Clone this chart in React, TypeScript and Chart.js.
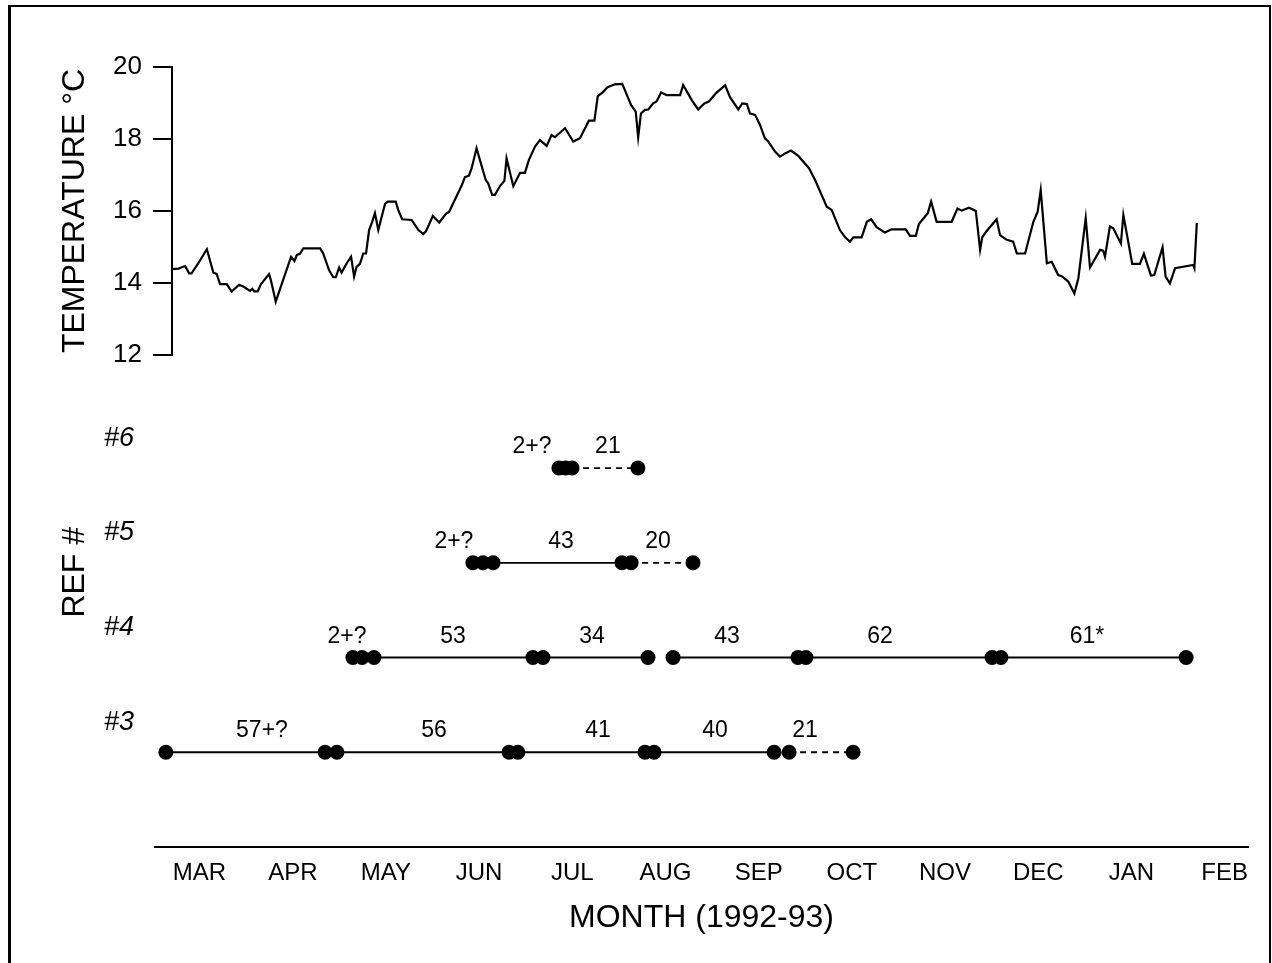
import React, { useEffect, useRef } from "react";
import { Chart, registerables } from "chart.js";

Chart.register(...registerables);

// ---------- data ----------
// x values are days since 1 March 1992
const monthLabels = ["MAR", "APR", "MAY", "JUN", "JUL", "AUG", "SEP", "OCT", "NOV", "DEC", "JAN", "FEB"];
const monthTickDays = [15.2, 45.7, 76.1, 106.5, 137.0, 167.4, 197.9, 228.3, 258.7, 289.2, 319.6, 350.1];

const tempTicks = [12, 14, 16, 18, 20];

const tempDays = [
  5.9, 8.3, 10.5, 11.8, 12.6, 14.8, 17.6, 19.7, 20.8, 21.9, 24.1, 25.7, 28.1, 29.5, 31.7, 32.4, 33.1, 34.2, 35.3, 37.9,
  38.5, 40.1, 45.1, 46.2, 47.0, 48.0, 49.1, 54.6, 55.6, 57.5, 58.9, 59.7, 60.8, 61.6, 63.3, 64.7, 65.7, 66.5, 67.6, 68.7,
  69.6, 70.6, 71.6, 72.5, 73.6, 75.8, 76.7, 79.3, 80.1, 81.4, 84.5, 86.7, 88.3, 89.1, 89.9, 91.4, 93.5, 95.9, 96.7, 100.8,
  101.9, 103.2, 104.1, 105.7, 108.7, 109.5, 110.8, 111.7, 113.4, 114.8, 115.5,
  117.7, 119.9, 121.5, 122.8, 124.8, 126.4, 128.6, 130.2, 131.3, 134.6, 137.3, 139.5, 142.4, 144.2, 145.3, 146.8, 148.5,
  150.9, 153.3, 156.2, 157.7, 158.5, 159.4, 160.7, 161.8, 163.4, 164.5, 166.0, 167.8, 172.2, 173.2, 176.0, 178.1, 180.1,
  181.6, 184.1, 186.9, 188.5, 191.2, 192.5, 194.0, 195.0, 196.7, 198.3, 199.9, 201.0, 203.2, 204.8, 206.5, 208.4, 210.8,
  214.3, 216.3, 220.1, 221.7, 224.4, 226.1, 227.7,
  228.8, 231.5, 233.2, 234.6, 236.4, 239.1, 241.3, 245.9, 247.3, 249.2, 250.2, 253.1, 254.2, 256.0, 260.9, 262.8, 264.2,
  266.6, 268.8, 270.2, 270.9, 272.4, 275.6, 276.7, 278.9, 281.0, 282.2, 284.9, 287.6, 289.0, 290.0, 292.0, 293.6, 295.7,
  297.0, 299.0, 301.0, 302.3, 304.7, 306.1, 309.4, 310.4, 311.0, 312.6, 313.7, 316.2, 317.0, 319.9, 322.4, 323.7, 326.0,
  327.1, 329.8, 330.8, 332.2, 333.9, 339.8, 340.2, 341.0,
];

const tempValues = [
  14.38, 14.4, 14.47, 14.27, 14.27, 14.55, 14.94, 14.29, 14.25, 13.97, 13.97, 13.76, 13.95, 13.9, 13.78, 13.84, 13.77, 13.77, 13.97, 14.25,
  14.08, 13.48, 14.73, 14.61, 14.78, 14.81, 14.96, 14.96, 14.82, 14.36, 14.16, 14.16, 14.43, 14.29, 14.55, 14.73, 14.18, 14.45, 14.53, 14.82,
  14.82, 15.47, 15.7, 15.94, 15.47, 16.2, 16.26, 16.26, 16.03, 15.77, 15.75, 15.47, 15.36, 15.43, 15.57, 15.86, 15.68, 15.94, 15.97, 16.7,
  16.94, 16.98, 17.19, 17.74, 16.86, 16.77, 16.45, 16.45, 16.7, 16.84, 17.46,
  16.69, 17.06, 17.06, 17.42, 17.79, 17.97, 17.81, 18.11, 18.05, 18.3, 17.93, 18.02, 18.51, 18.51, 19.19, 19.29, 19.44,
  19.52, 19.53, 18.94, 18.76, 18.05, 18.71, 18.81, 18.82, 18.99, 19.04, 19.29, 19.22, 19.22, 19.5, 19.08, 18.82, 18.99,
  19.04, 19.29, 19.49, 19.16, 18.82, 18.99, 18.97, 18.71, 18.67, 18.39, 18.02, 17.93, 17.65, 17.51, 17.6, 17.68, 17.53,
  17.19, 16.86, 16.12, 16.03, 15.47, 15.27, 15.15,
  15.27, 15.27, 15.7, 15.77, 15.55, 15.4, 15.49, 15.49, 15.31, 15.31, 15.64, 15.94, 16.26, 15.7, 15.7, 16.07, 16.01,
  16.09, 16.0, 14.92, 15.27, 15.45, 15.77, 15.33, 15.2, 15.15, 14.82, 14.82, 15.7, 15.98, 16.58, 14.55, 14.59, 14.22,
  14.18, 14.04, 13.71, 14.13, 15.8, 14.43, 14.92, 14.9, 14.73, 15.57, 15.52, 15.1, 15.89, 14.53, 14.53, 14.81, 14.21,
  14.22, 14.99, 14.18, 13.99, 14.41, 14.5, 14.41, 15.67,
];

const refRows = [3, 4, 5, 6];

const ref3Dots = [4.2, 56.2, 60.1, 116.3, 119.2, 160.7, 163.7, 202.9, 207.8, 228.7];
const ref3Solid = [[4.2, 56.2], [60.1, 116.3], [119.2, 160.7], [163.7, 202.9]];
const ref3Dashed = [[207.8, 228.7]];
const ref3Notes = ["57+?", "56", "41", "40", "21"];
const ref3NoteDays = [35.6, 91.8, 145.4, 183.6, 213.0];

const ref4Dots = [65.3, 68.3, 72.2, 124.1, 127.4, 161.7, 169.9, 210.7, 213.3, 274.1, 277.0, 337.5];
const ref4Solid = [[72.2, 124.1], [127.4, 161.7], [169.9, 210.7], [213.3, 274.1], [277.0, 337.5]];
const ref4Dashed: number[][] = [];
const ref4Notes = ["2+?", "53", "34", "43", "62", "61*"];
const ref4NoteDays = [63.4, 98.0, 143.4, 187.5, 237.5, 305.1];

const ref5Dots = [104.5, 107.8, 111.1, 153.2, 156.2, 176.4];
const ref5Solid = [[111.1, 153.2]];
const ref5Dashed = [[156.2, 176.4]];
const ref5Notes = ["2+?", "43", "20"];
const ref5NoteDays = [98.3, 133.3, 165.0];

const ref6Dots = [132.6, 134.8, 136.9, 158.4];
const ref6Solid: number[][] = [];
const ref6Dashed = [[136.9, 158.4]];
const ref6Notes = ["2+?", "21"];
const ref6NoteDays = [123.8, 148.6];

// ---------- layout constants ----------
const W = 1272;
const H = 963;
const FONT = '"Liberation Sans", Arial, Helvetica, sans-serif';
const PX_PER_DAY = 3.0611;
const X_ORIGIN_PX = 153;
const PLOT_RIGHT_PX = 1248;
const X_MAX = (PLOT_RIGHT_PX - X_ORIGIN_PX) / PX_PER_DAY;
const TOP_LEFT_PX = 172;
const BOT_LEFT_PX = 155;
const TOP_X_MIN = (TOP_LEFT_PX - X_ORIGIN_PX) / PX_PER_DAY;
const BOT_X_MIN = (BOT_LEFT_PX - X_ORIGIN_PX) / PX_PER_DAY;

const rows = [
  { row: 3, dots: ref3Dots, solid: ref3Solid, dashed: ref3Dashed, notes: ref3Notes, noteDays: ref3NoteDays },
  { row: 4, dots: ref4Dots, solid: ref4Solid, dashed: ref4Dashed, notes: ref4Notes, noteDays: ref4NoteDays },
  { row: 5, dots: ref5Dots, solid: ref5Solid, dashed: ref5Dashed, notes: ref5Notes, noteDays: ref5NoteDays },
  { row: 6, dots: ref6Dots, solid: ref6Solid, dashed: ref6Dashed, notes: ref6Notes, noteDays: ref6NoteDays },
];

const notesPlugin = {
  id: "refNotes",
  afterDatasetsDraw(chart: any) {
    const { ctx } = chart;
    const xs = chart.scales.x;
    const ys = chart.scales.y;
    ctx.save();
    ctx.font = `23px ${FONT}`;
    ctx.fillStyle = "#000";
    ctx.textAlign = "center";
    ctx.textBaseline = "alphabetic";
    rows.forEach((r) => {
      r.notes.forEach((t, i) => {
        ctx.fillText(t, xs.getPixelForValue(r.noteDays[i]), ys.getPixelForValue(r.row) - 15);
      });
    });
    ctx.restore();
  },
};

export default function App() {
  const topRef = useRef<HTMLCanvasElement>(null);
  const botRef = useRef<HTMLCanvasElement>(null);

  useEffect(() => {
    Chart.defaults.font.family = FONT;
    Chart.defaults.color = "#000";

    const top = new Chart(topRef.current as HTMLCanvasElement, {
      type: "line",
      data: {
        datasets: [
          {
            data: tempDays.map((d, i) => ({ x: d, y: tempValues[i] })),
            borderColor: "#000",
            borderWidth: 2.2,
            pointRadius: 0,
            tension: 0,
            fill: false,
          },
        ],
      },
      options: {
        responsive: false,
        animation: false,
        devicePixelRatio: 1,
        layout: { padding: { left: 0, right: W - PLOT_RIGHT_PX, top: 67, bottom: H - 355 } },
        plugins: { legend: { display: false }, tooltip: { enabled: false } },
        scales: {
          x: { type: "linear", display: false, min: TOP_X_MIN, max: X_MAX },
          y: {
            type: "linear",
            min: 12,
            max: 20,
            afterFit: (s: any) => {
              s.width = TOP_LEFT_PX;
            },
            afterBuildTicks: (s: any) => {
              s.ticks = tempTicks.map((v) => ({ value: v }));
            },
            ticks: { font: { size: 26 }, padding: 11, color: "#000" },
            grid: { display: true, drawOnChartArea: false, drawTicks: true, tickLength: 19, color: "#000", lineWidth: 2 },
            border: { display: true, color: "#000", width: 2 },
            title: { display: true, text: "TEMPERATURE °C", font: { size: 32 }, padding: { top: 56, bottom: 0 }, color: "#000" },
          },
        },
      } as any,
    });

    const datasets: any[] = [];
    rows.forEach((r) => {
      r.solid.forEach(([a, b]) => {
        datasets.push({
          data: [{ x: a, y: r.row }, { x: b, y: r.row }],
          borderColor: "#000",
          borderWidth: 1.8,
          pointRadius: 0,
          tension: 0,
          fill: false,
        });
      });
      r.dashed.forEach(([a, b]) => {
        datasets.push({
          data: [{ x: a, y: r.row }, { x: b, y: r.row }],
          borderColor: "#000",
          borderWidth: 1.8,
          borderDash: [6, 5],
          pointRadius: 0,
          tension: 0,
          fill: false,
        });
      });
      datasets.push({
        data: r.dots.map((d) => ({ x: d, y: r.row })),
        showLine: false,
        pointRadius: 7.5,
        pointBackgroundColor: "#000",
        pointBorderWidth: 0,
        borderColor: "#000",
      });
    });

    const bot = new Chart(botRef.current as HTMLCanvasElement, {
      type: "line",
      data: { datasets },
      options: {
        responsive: false,
        animation: false,
        devicePixelRatio: 1,
        layout: { padding: { left: 0, right: W - PLOT_RIGHT_PX, top: 297.5, bottom: 16 } },
        plugins: { legend: { display: false }, tooltip: { enabled: false } },
        scales: {
          x: {
            type: "linear",
            min: BOT_X_MIN,
            max: X_MAX,
            afterFit: (s: any) => {
              s.height = 100;
            },
            afterBuildTicks: (s: any) => {
              s.ticks = monthTickDays.map((v) => ({ value: v }));
            },
            ticks: {
              callback: (_v: any, i: number) => monthLabels[i],
              autoSkip: false,
              maxRotation: 0,
              minRotation: 0,
              font: { size: 24 },
              padding: 12,
              color: "#000",
            },
            grid: { display: false, drawTicks: false },
            border: { display: true, color: "#000", width: 2 },
            title: { display: true, text: "MONTH (1992-93)", font: { size: 32 }, padding: { top: 0, bottom: 10 }, color: "#000" },
          },
          y: {
            type: "linear",
            min: 2,
            max: 7.8,
            afterFit: (s: any) => {
              s.width = BOT_LEFT_PX;
            },
            afterBuildTicks: (s: any) => {
              s.ticks = refRows.map((v) => ({ value: v }));
            },
            ticks: {
              callback: (v: any) => "#" + v,
              font: { size: 27, style: "italic" },
              padding: 21,
              labelOffset: -30,
              color: "#000",
            },
            grid: { display: false, drawTicks: false },
            border: { display: false },
            title: { display: true, text: "REF #", font: { size: 32 }, padding: { top: 56, bottom: 0 }, color: "#000" },
          },
        },
      } as any,
      plugins: [notesPlugin],
    });

    return () => {
      top.destroy();
      bot.destroy();
    };
  }, []);

  return (
    <div style={{ position: "absolute", left: 0, top: 0, width: W, height: H, background: "#fff", overflow: "hidden" }}>
      <canvas ref={topRef} width={W} height={H} style={{ position: "absolute", left: 0, top: 0, display: "block" }} />
      <canvas ref={botRef} width={W} height={H} style={{ position: "absolute", left: 0, top: 0, display: "block" }} />
      <div
        style={{
          position: "absolute",
          left: 8,
          top: 5,
          width: 1263,
          height: 1000,
          boxSizing: "border-box",
          borderLeft: "3px solid #000",
          borderTop: "2px solid #000",
          borderRight: "2px solid #000",
          pointerEvents: "none",
        }}
      />
    </div>
  );
}
